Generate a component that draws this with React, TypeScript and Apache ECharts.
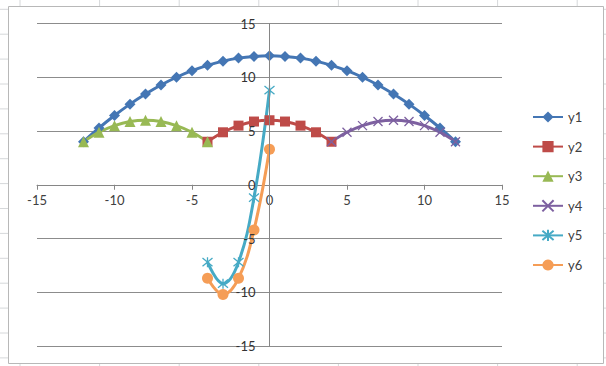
import React, { useEffect, useRef } from "react";
import * as echarts from "echarts";

// ---- data ----
const x1 = [-12, -11, -10, -9, -8, -7, -6, -5, -4, -3, -2, -1, 0, 1, 2, 3, 4, 5, 6, 7, 8, 9, 10, 11, 12];
const y1 = [4, 5.28, 6.44, 7.5, 8.44, 9.28, 10, 10.61, 11.11, 11.5, 11.78, 11.94, 12, 11.94, 11.78, 11.5, 11.11, 10.61, 10, 9.28, 8.44, 7.5, 6.44, 5.28, 4];
const x2 = [-4, -3, -2, -1, 0, 1, 2, 3, 4];
const y2 = [4, 4.88, 5.5, 5.88, 6, 5.88, 5.5, 4.88, 4];
const x3 = [-12, -11, -10, -9, -8, -7, -6, -5, -4];
const y3 = [4, 4.88, 5.5, 5.88, 6, 5.88, 5.5, 4.88, 4];
const x4 = [4, 5, 6, 7, 8, 9, 10, 11, 12];
const y4 = [4, 4.88, 5.5, 5.88, 6, 5.88, 5.5, 4.88, 4];
const x5 = [-4, -3, -2, -1, 0];
const y5 = [-7.2, -9.2, -7.2, -1.2, 8.8];
const x6 = [-4, -3, -2, -1, 0];
const y6 = [-8.7, -10.2, -8.7, -4.2, 3.3];
const seriesNames = ["y1", "y2", "y3", "y4", "y5", "y6"];
const axisTicks = { min: -15, max: 15, interval: 5 };

const COLORS = ["#4476B4", "#BE4B48", "#98B954", "#7D60A0", "#46AAC5", "#F59D56"];
const FONT = "Lato, 'Liberation Sans', sans-serif";

const pair = (xs: number[], ys: number[]) => xs.map((x, i) => [x, ys[i]]);

export default function App() {
  const ref = useRef<HTMLDivElement>(null);
  useEffect(() => {
    if (!ref.current) return;
    const chart = echarts.init(ref.current, null, { renderer: "svg" });

    const gridTop = 23.5;
    const gridBottomPx = 346;
    const gridLeft = 37;
    const gridRightPx = 502;
    const plotH = gridBottomPx - gridTop;
    const plotW = gridRightPx - gridLeft;
    const span = axisTicks.max - axisTicks.min;
    // pixel distance from the plot edge to the zero line of each axis
    const xZeroOffset = plotH * (0 - axisTicks.min) / span;
    const yZeroOffset = plotW * (0 - axisTicks.min) / span;

    // spreadsheet background lines + chart frame
    const graphics: any[] = [];
    for (let k = 0; k < 15; k++) {
      const y = 9.3 + 24.9 * k;
      graphics.push({ type: "line", z: -20, shape: { x1: 0, y1: y, x2: 606, y2: y }, style: { stroke: "#d6d8da", lineWidth: 1 } });
    }
    for (let k = 0; k < 8; k++) {
      const x = 20 + 79.6 * k;
      graphics.push({ type: "line", z: -20, shape: { x1: x, y1: 0, x2: x, y2: 366 }, style: { stroke: "#d6d8da", lineWidth: 1 } });
    }
    graphics.push({
      type: "rect",
      z: -10,
      shape: { x: 8.5, y: 6.5, width: 595, height: 357 },
      style: { fill: "#ffffff", stroke: "#b8b8b8", lineWidth: 1 },
    });

    const sym = {
      diamond: "diamond",
      square: "rect",
      triangle: "triangle",
      cross: "path://M0,0L10,10M10,0L0,10",
      star: "path://M0,0L10,10M10,0L0,10M5,-1L5,11",
      circle: "circle",
    };

    const mk = (i: number, data: number[][], symbol: string, size: number, stroked = false) => ({
      name: seriesNames[i],
      type: "line",
      xAxisIndex: 0,
      yAxisIndex: 0,
      z: 3,
      data,
      smooth: 0.4,
      symbol,
      symbolSize: size,
      showSymbol: true,
      lineStyle: { color: COLORS[i], width: 3 },
      itemStyle: stroked
        ? { color: "rgba(0,0,0,0)", borderColor: COLORS[i], borderWidth: 1.3 }
        : { color: COLORS[i], borderColor: COLORS[i], borderWidth: 0 },
      emphasis: { disabled: true },
    });

    const labelStyle = { color: "#404040", fontSize: 13, fontFamily: FONT };

    chart.setOption({
      animation: false,
      backgroundColor: "#ffffff",
      graphic: graphics,
      grid: {
        left: gridLeft,
        right: 606 - gridRightPx,
        top: gridTop,
        bottom: 366 - gridBottomPx,
        outerBoundsMode: "none",
        containLabel: false,
      },
      xAxis: {
        type: "value",
        ...axisTicks,
        position: "bottom",
        offset: -xZeroOffset,
        z: 1,
        axisLine: { show: true, onZero: false, lineStyle: { color: "#868686", width: 1 } },
        axisTick: { show: true, inside: false, length: 5, lineStyle: { color: "#868686" } },
        axisLabel: { ...labelStyle, margin: 9 },
        splitLine: { show: false },
      },
      yAxis: [
        {
          // gridlines only
          type: "value",
          ...axisTicks,
          position: "left",
          z: -1,
          axisLine: { show: false },
          axisTick: { show: false },
          axisLabel: { show: false },
          splitLine: { show: true, lineStyle: { color: "#8c8c8c", width: 1 } },
        },
        {
          // axis line and labels at x = 0, drawn above the series
          type: "value",
          ...axisTicks,
          position: "left",
          offset: -yZeroOffset,
          z: 10,
          axisLine: { show: true, onZero: false, lineStyle: { color: "#868686", width: 1 } },
          axisTick: { show: false },
          axisLabel: { ...labelStyle, color: "#333333", margin: 14, padding: [2, 0, 0, 0] },
          splitLine: { show: false },
        },
      ],
      legend: {
        orient: "vertical",
        left: 527,
        top: 105,
        itemWidth: 30,
        itemHeight: 14,
        itemGap: 15.6,
        textStyle: { ...labelStyle, lineHeight: 14 },
        data: seriesNames,
      },
      series: [
        mk(0, pair(x1, y1), sym.diamond, 11),
        mk(1, pair(x2, y2), sym.square, 10),
        mk(2, pair(x3, y3), sym.triangle, 11),
        mk(3, pair(x4, y4), sym.cross, 9, true),
        mk(4, pair(x5, y5), sym.star, 10, true),
        mk(5, pair(x6, y6), sym.circle, 11),
      ],
    });
    return () => chart.dispose();
  }, []);
  return (
    <div
      ref={ref}
      style={{ position: "fixed", left: 0, top: 0, width: 606, height: 366 }}
    />
  );
}
